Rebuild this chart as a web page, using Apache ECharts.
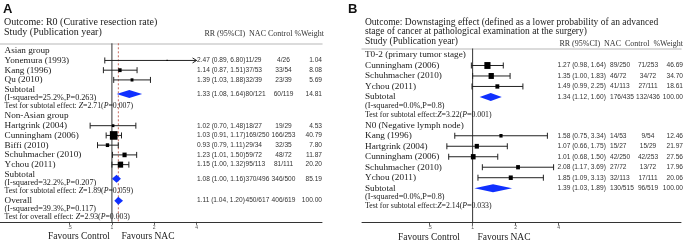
<!DOCTYPE html>
<html><head><meta charset="utf-8">
<script src="https://cdn.jsdelivr.net/npm/echarts@6/dist/echarts.min.js"></script>
<style>html,body{margin:0;padding:0;background:#fff}#c{width:685px;height:242px}</style>
</head><body><div id="c"></div>
<script>
// ---------- Panel A : R0 (curative resection rate) ----------
const aLabels = ['Asian group','Yonemura (1993)','Kang (1996)','Qu (2010)','Subtotal',
  '(I-squared=25.2%,P=0.263)','Test for subtotal effect: {i|Z}=2.71({i|P}=0.007)','Non-Asian group',
  'Hartgrink (2004)','Cunningham (2006)','Biffi (2010)','Schuhmacher (2010)','Ychou (2011)','Subtotal',
  '(I-squared=32.2%,P=0.207)','Test for subtotal effect: {i|Z}=1.89({i|P}=0.059)','Overall',
  '(I-squared=39.3%,P=0.117)','Test for overall effect: {i|Z}=2.93({i|P}=0.003)'];
const aKinds = ['group','study','study','study','subtotal','note','test','group','study','study','study','study','study','subtotal','note','test','overall','note','test'];
const aRR  = [null,2.47,1.14,1.39,1.33,null,null,null,1.02,1.03,0.93,1.23,1.15,1.08,null,null,1.11,null,null];
const aLo  = [null,0.89,0.87,1.03,1.08,null,null,null,0.70,0.91,0.79,1.01,1.00,1.00,null,null,1.04,null,null];
const aHi  = [null,6.80,1.51,1.88,1.64,null,null,null,1.48,1.17,1.11,1.50,1.32,1.16,null,null,1.20,null,null];
const aNAC = [null,'11/29','37/53','32/39','80/121',null,null,null,'18/27','169/250','29/34','59/72','95/113','370/496',null,null,'450/617',null,null];
const aCtrl= [null,'4/26','33/54','23/39','60/119',null,null,null,'19/29','166/253','32/35','48/72','81/111','346/500',null,null,'406/619',null,null];
const aWeight=[null,1.04,8.08,5.69,14.81,null,null,null,4.53,40.79,7.80,11.87,20.20,85.19,null,null,100.00,null,null];
const aOverallRR = 1.11;

// ---------- Panel B : Downstaging effect ----------
const bLabels = ['T0-2 (primary tumor stage)','Cunningham (2006)','Schuhmacher (2010)','Ychou (2011)','Subtotal',
  '(I-squared=0.0%,P=0.8)','Test for subtotal effect:{i|Z}=3.22({i|P}=0.001)','N0 (Negative lymph node)',
  'Kang (1996)','Hartgrink (2004)','Cunningham (2006)','Schuhmacher (2010)','Ychou (2011)','Subtotal',
  '(I-squared=0.0%,P=0.8)','Test for subtotal effect:{i|Z}=2.14({i|P}=0.033)'];
const bKinds = ['group','study','study','study','subtotal','note','test','group','study','study','study','study','study','subtotal','note','test'];
const bRR  = [null,1.27,1.35,1.49,1.34,null,null,null,1.58,1.07,1.01,2.08,1.85,1.39,null,null];
const bLo  = [null,0.98,1.00,0.99,1.12,null,null,null,0.75,0.66,0.68,1.17,1.09,1.03,null,null];
const bHi  = [null,1.64,1.83,2.25,1.60,null,null,null,3.34,1.75,1.50,3.69,3.13,1.89,null,null];
const bNAC = [null,'89/250','46/72','41/113','176/435',null,null,null,'14/53','15/27','42/250','27/72','32/113','130/515',null,null];
const bCtrl= [null,'71/253','34/72','27/111','132/436',null,null,null,'9/54','15/29','42/253','13/72','17/111','96/519',null,null];
const bWeight=[null,46.69,34.70,18.61,100.00,null,null,null,12.46,21.97,27.56,17.96,20.06,100.00,null,null];

// ---------- axis ticks ----------
const xTicks = [0.5, 1, 2, 4];
const xTickLabels = ['.5', '1', '2', '4'];
const nullEffect = 1;

// layout helper: line slots (notes / test lines are a bit tighter)
function rowPositions(kinds){
  const pos = []; let y = 0;
  kinds.forEach((k, i) => { if (i > 0) y += (k === 'note' || k === 'test') ? 0.85 : 1; pos.push(y); });
  return pos;
}
const aPos = rowPositions(aKinds);
const bPos = rowPositions(bKinds);

const SERIF = '"Liberation Serif", "DejaVu Serif", serif';
const SANS = '"Liberation Sans", Arial, sans-serif';
const BLUE = '#1030ff';

function makeRender(p){
  return function(params, api){
    const i = params.dataIndex;
    const cs = params.coordSys;
    const kind = p.kinds[i];
    const y = p.pos[i];
    const py = api.coord([nullEffect, y])[1];
    const ch = [];
    let fs = 9.2;
    if (kind === 'note') fs = 8.2;
    if (kind === 'test') fs = 7.8;
    ch.push({type:'text', x: cs.x + p.labelX, y: py, z2: 5,
      style:{text: p.labels[i], fill:'#1a1a1a', fontSize: fs, fontFamily: SERIF,
        align:'left', verticalAlign:'middle',
        rich:{i:{fontStyle:'italic', fontSize: fs, fontFamily: SERIF, fill:'#1a1a1a'}}}});
    const rr = p.rr[i];
    if (rr != null) {
      const lo = p.lo[i], hi = p.hi[i];
      const off = kind === 'subtotal' ? p.subOff : (kind === 'overall' ? p.ovOff : 0);
      const cy = api.coord([nullEffect, y + off])[1];
      const xr = api.coord([rr, y])[0];
      const xl = api.coord([lo, y])[0];
      if (kind === 'study') {
        const clipped = hi > p.clipMax;
        const xh = api.coord([clipped ? p.clipMax : hi, y])[0];
        const ln = {stroke:'#222', lineWidth:1};
        ch.push({type:'line', shape:{x1:xl, y1:cy, x2:xh, y2:cy}, style:ln});
        ch.push({type:'line', shape:{x1:xl, y1:cy-3, x2:xl, y2:cy+3}, style:ln});
        if (clipped) {
          ch.push({type:'polyline', shape:{points:[[xh-4, cy-2.5],[xh, cy],[xh-4, cy+2.5]]}, style:{stroke:'#222', lineWidth:1, fill:null}});
        } else {
          ch.push({type:'line', shape:{x1:xh, y1:cy-3, x2:xh, y2:cy+3}, style:ln});
        }
        const w = p.boxK * Math.sqrt(p.weight[i]);
        const h = w * 1.12;
        ch.push({type:'rect', shape:{x: xr - w/2, y: cy - h/2, width: w, height: h}, style:{fill:'#000'}});
      } else {
        const xh = api.coord([hi, y])[0];
        ch.push({type:'polygon', shape:{points:[[xl, cy],[xr, cy-4],[xh, cy],[xr, cy+4]]}, style:{fill: BLUE}});
      }
      const nf = {fill:'#333', fontSize: 6.6, fontFamily: SANS, verticalAlign:'middle'};
      const rrTxt = rr.toFixed(2) + ' (' + lo.toFixed(2) + ', ' + hi.toFixed(2) + ')';
      ch.push({type:'text', x: cs.x + p.colRR, y: cy, style: Object.assign({text: rrTxt, align:'left'}, nf)});
      ch.push({type:'text', x: cs.x + p.colNAC, y: cy, style: Object.assign({text: p.nac[i], align:'left'}, nf)});
      ch.push({type:'text', x: cs.x + p.colCtrl, y: cy, style: Object.assign({text: p.ctrl[i], align:'center'}, nf)});
      ch.push({type:'text', x: cs.x + p.colW, y: cy, style: Object.assign({text: p.weight[i].toFixed(2), align:'right'}, nf)});
    }
    return {type:'group', children: ch};
  };
}

function logAxis(gi, min, max){
  return {type:'log', logBase:2, gridIndex:gi, min:min, max:max, position:'bottom',
    axisLine:{show:true, onZero:false, lineStyle:{color:'#333', width:1}},
    axisTick:{show:true, inside:false, length:3, customValues: xTicks, lineStyle:{color:'#333', width:0.8}},
    axisLabel:{show:true, customValues: xTicks, fontSize:5, color:'#555', margin:3, fontFamily: SANS,
      formatter: function(v){ const k = xTicks.findIndex(t => Math.abs(t - v) < 1e-6); return k >= 0 ? xTickLabels[k] : ''; }},
    splitLine:{show:false}, minorTick:{show:false}};
}
function topAxis(gi){
  return {type:'value', gridIndex:gi, position:'top', min:0, max:1,
    axisLine:{show:true, onZero:false, lineStyle:{color:'#cfcfcf', width:1.5}},
    axisTick:{show:false}, axisLabel:{show:false}, splitLine:{show:false}};
}

const A = {labels:aLabels, kinds:aKinds, pos:aPos, rr:aRR, lo:aLo, hi:aHi, nac:aNAC, ctrl:aCtrl, weight:aWeight,
  labelX:4.5, colRR:197, colNAC:245.5, colCtrl:283.5, colW:322, boxK:1.2, subOff:0.45, ovOff:0, clipMax:4};
const B = {labels:bLabels, kinds:bKinds, pos:bPos, rr:bRR, lo:bLo, hi:bHi, nac:bNAC, ctrl:bCtrl, weight:bWeight,
  labelX:3, colRR:195.5, colNAC:248, colCtrl:286, colW:321, boxK:0.9, subOff:0, ovOff:0, clipMax:4};

const aYMin = -0.76, aYMax = 17.58, bYMin = -0.62, bYMax = 15.97;

const chart = echarts.init(document.getElementById('c'), null, {renderer:'canvas'});
chart.setOption({
  animation:false,
  backgroundColor:'#fff',
  grid:[
    {left:0, top:43.3, width:322, height:178.6, containLabel:false, outerBoundsMode:'none'},
    {left:362, top:48.5, width:319, height:174, containLabel:false, outerBoundsMode:'none'}
  ],
  xAxis:[ logAxis(0, 0.16, 31.2), topAxis(0), logAxis(1, 0.168, 28.8), topAxis(1) ],
  yAxis:[
    {type:'value', gridIndex:0, inverse:true, min:aYMin, max:aYMax, show:false},
    {type:'value', gridIndex:1, inverse:true, min:bYMin, max:bYMax, show:false}
  ],
  series:[
    {type:'line', xAxisIndex:0, yAxisIndex:0, data:[[nullEffect, aYMin],[nullEffect, aYMax]], symbol:'none', silent:true,
      lineStyle:{color:'#333', width:1}, z:1},
    {type:'line', xAxisIndex:0, yAxisIndex:0, data:[[aOverallRR, aYMin],[aOverallRR, aYMax]], symbol:'none', silent:true,
      lineStyle:{color:'#b8483a', width:0.8, type:[2,2]}, z:1},
    {type:'custom', xAxisIndex:0, yAxisIndex:0, clip:false, z:3, data: aPos.map(y => [nullEffect, y]), encode:{x:0, y:1},
      renderItem: makeRender(A)},
    {type:'line', xAxisIndex:2, yAxisIndex:1, data:[[nullEffect, bYMin],[nullEffect, bYMax]], symbol:'none', silent:true,
      lineStyle:{color:'#333', width:1}, z:1},
    {type:'custom', xAxisIndex:2, yAxisIndex:1, clip:false, z:3, data: bPos.map(y => [nullEffect, y]), encode:{x:0, y:1},
      renderItem: makeRender(B)}
  ],
  graphic:[
    {type:'text', x:3, y:9, style:{text:'A', fill:'#111', fontSize:13, fontWeight:'bold', fontFamily:SANS, verticalAlign:'middle'}},
    {type:'text', x:4, y:22.7, style:{text:'Outcome: R0 (Curative resection rate)', fill:'#1a1a1a', fontSize:10, fontFamily:SERIF, verticalAlign:'middle'}},
    {type:'text', x:4, y:32.3, style:{text:'Study (Publication year)', fill:'#1a1a1a', fontSize:10, fontFamily:SERIF, verticalAlign:'middle'}},
    {type:'text', x:324, y:34.3, style:{text:'RR (95%CI)  NAC Control %Weight', fill:'#333', fontSize:8, fontFamily:SERIF, align:'right', verticalAlign:'middle'}},
    {type:'text', x:79, y:236, style:{text:'Favours Control', fill:'#1a1a1a', fontSize:9.5, fontFamily:SERIF, align:'center', verticalAlign:'middle'}},
    {type:'text', x:148, y:236, style:{text:'Favours NAC', fill:'#1a1a1a', fontSize:9.5, fontFamily:SERIF, align:'center', verticalAlign:'middle'}},

    {type:'text', x:348, y:9, style:{text:'B', fill:'#111', fontSize:13, fontWeight:'bold', fontFamily:SANS, verticalAlign:'middle'}},
    {type:'text', x:365, y:22, style:{text:'Outcome: Downstaging effect (defined as a lower probability of an advanced', fill:'#1a1a1a', fontSize:9.5, fontFamily:SERIF, verticalAlign:'middle'}},
    {type:'text', x:365, y:31.5, style:{text:'stage of cancer at pathological examination at the surgery)', fill:'#1a1a1a', fontSize:9.5, fontFamily:SERIF, verticalAlign:'middle'}},
    {type:'text', x:365, y:41, style:{text:'Study (Publication year)', fill:'#1a1a1a', fontSize:9.5, fontFamily:SERIF, verticalAlign:'middle'}},
    {type:'text', x:683, y:43.5, style:{text:'RR (95%CI)  NAC  Control  %Weight', fill:'#333', fontSize:8, fontFamily:SERIF, align:'right', verticalAlign:'middle'}},
    {type:'text', x:429, y:237.5, style:{text:'Favours Control', fill:'#1a1a1a', fontSize:9.5, fontFamily:SERIF, align:'center', verticalAlign:'middle'}},
    {type:'text', x:504, y:237.5, style:{text:'Favours NAC', fill:'#1a1a1a', fontSize:9.5, fontFamily:SERIF, align:'center', verticalAlign:'middle'}}
  ]
});
</script>
</body></html>
